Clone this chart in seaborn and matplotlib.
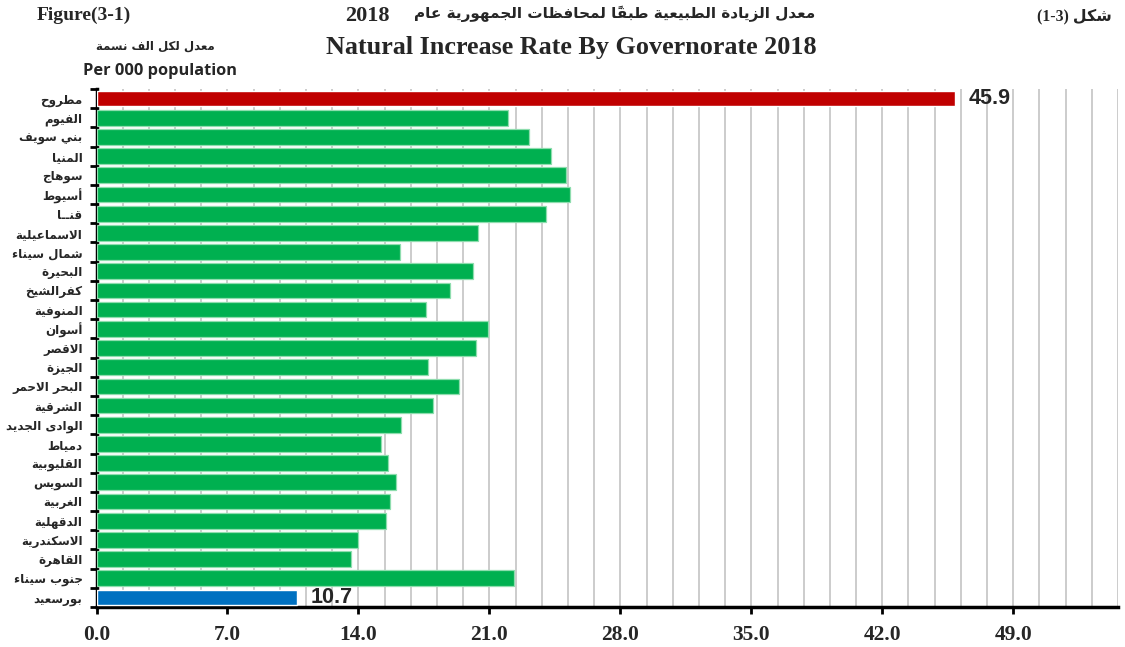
import numpy as np
import pandas as pd
import matplotlib
matplotlib.use("Agg")
import matplotlib.pyplot as plt
from matplotlib.colors import same_color
from matplotlib.ticker import MultipleLocator, FixedLocator, FormatStrFormatter
import seaborn as sns

# ---- data ----
governorates = ["مطروح", "الفيوم", "بني سويف", "المنيا", "سوهاج", "أسيوط", "قنــا",
                "الاسماعيلية", "شمال سيناء", "البحيرة", "كفرالشيخ", "المنوفية", "أسوان",
                "الاقصر", "الجيزة", "البحر الاحمر", "الشرقية", "الوادى الجديد", "دمياط",
                "القليوبية", "السويس", "الغربية", "الدقهلية", "الاسكندرية", "القاهرة",
                "جنوب سيناء", "بورسعيد"]
rates = [45.9, 22.0, 23.1, 24.3, 25.1, 25.3, 24.0, 20.4, 16.2, 20.1, 18.9, 17.6, 20.9,
         20.3, 17.7, 19.4, 18.0, 16.3, 15.2, 15.6, 16.0, 15.7, 15.5, 14.0, 13.6, 22.3, 10.7]

title_ar = "معدل الزيادة الطبيعية طبقاً لمحافظات الجمهورية عام"
title_year = "2018"
title_en = "Natural Increase Rate By Governorate 2018"
fig_label_en = "Figure(3-1)"
fig_label_ar = "شكل"
fig_label_num = "(1-3)"
unit_ar = "معدل لكل الف نسمة"
unit_en = "Per 000 population"

palette = {"max": "#C00000", "mid": "#00B050", "min": "#0070C0"}

# ---- minimal arabic shaping (matplotlib has no bidi / shaping) ----
AR_BASE = {"ء": 0xFE80, "آ": 0xFE81, "أ": 0xFE83, "ؤ": 0xFE85, "إ": 0xFE87, "ئ": 0xFE89,
           "ا": 0xFE8D, "ب": 0xFE8F, "ة": 0xFE93, "ت": 0xFE95, "ث": 0xFE99, "ج": 0xFE9D,
           "ح": 0xFEA1, "خ": 0xFEA5, "د": 0xFEA9, "ذ": 0xFEAB, "ر": 0xFEAD, "ز": 0xFEAF,
           "س": 0xFEB1, "ش": 0xFEB5, "ص": 0xFEB9, "ض": 0xFEBD, "ط": 0xFEC1, "ظ": 0xFEC5,
           "ع": 0xFEC9, "غ": 0xFECD, "ف": 0xFED1, "ق": 0xFED5, "ك": 0xFED9, "ل": 0xFEDD,
           "م": 0xFEE1, "ن": 0xFEE5, "ه": 0xFEE9, "و": 0xFEED, "ى": 0xFEEF, "ي": 0xFEF1}
RIGHT_ONLY = set("آأؤإادذرزوىة")
LAM_ALEF = {"ا": 0xFEFB, "أ": 0xFEF7, "إ": 0xFEF9, "آ": 0xFEF5}
MARKS = set("\u064B\u064C\u064D\u064E\u064F\u0650\u0651\u0652")
TATWEEL = "\u0640"


def joins_next(c):
    return c == TATWEEL or (c in AR_BASE and c not in RIGHT_ONLY and c != "ء")


def joins_prev(c):
    return c == TATWEEL or (c in AR_BASE and c != "ء")


def shape_ar(text):
    bases = [i for i, c in enumerate(text) if c not in MARKS]
    clusters = []
    k = 0
    while k < len(bases):
        i = bases[k]
        c = text[i]
        prev_c = text[bases[k - 1]] if k > 0 else ""
        next_c = text[bases[k + 1]] if k + 1 < len(bases) else ""
        marks = ""
        j = i + 1
        while j < len(text) and text[j] in MARKS:
            marks += text[j]
            j += 1
        p = joins_next(prev_c)
        if c == "ل" and next_c in LAM_ALEF:
            glyph = chr(LAM_ALEF[next_c] + (1 if p else 0))
            k += 1
            j = bases[k] + 1
            while j < len(text) and text[j] in MARKS:
                marks += text[j]
                j += 1
        elif c in AR_BASE and c != "ء":
            n = joins_prev(next_c) and c not in RIGHT_ONLY
            if p and n:
                off = 3
            elif n:
                off = 2
            elif p:
                off = 1
            else:
                off = 0
            glyph = chr(AR_BASE[c] + off)
        elif c == "ء":
            glyph = chr(AR_BASE[c])
        else:
            glyph = c
        clusters.append(glyph + marks)
        k += 1
    return "".join(reversed(clusters))


# ---- frame ----
df = pd.DataFrame({"gov": governorates, "rate": rates})
df["grp"] = ["max" if v == max(rates) else "min" if v == min(rates) else "mid" for v in rates]
df["label"] = [shape_ar(g) for g in governorates]

sns.set_theme(style="white")
plt.rcParams["font.family"] = ["DejaVu Sans"]
plt.rcParams["axes.linewidth"] = 2.5

fig = plt.figure(figsize=(11.25, 6.47), dpi=100)
ax = fig.add_axes([96.5 / 1125, 1 - 607 / 647, (1118 - 96.5) / 1125, (607 - 89) / 647])

sns.barplot(data=df, y="label", x="rate", hue="grp", palette=palette, dodge=False,
            width=0.82, legend=False, ax=ax, zorder=3, saturation=1)

for p in ax.patches:
    if same_color(p.get_facecolor(), palette["mid"]):
        p.set_edgecolor("#8EDDAE")
        p.set_linewidth(0.9)

n = len(governorates)
ax.set_xlim(0, 54.6)
ax.set_ylim(n - 0.5, -0.5)
ax.xaxis.set_major_locator(MultipleLocator(7))
ax.xaxis.set_minor_locator(MultipleLocator(1.4))
ax.xaxis.set_major_formatter(FormatStrFormatter("%.1f"))
ax.grid(axis="x", which="both", color="#C8C8C8", linewidth=1.3, zorder=0)
ax.set_axisbelow(True)

ax.yaxis.set_minor_locator(FixedLocator(np.arange(n + 1) - 0.5))
ax.tick_params(axis="y", which="major", length=0, pad=10, labelsize=8.6)
ax.tick_params(axis="y", which="minor", length=5, width=2, color="black", left=True)
ax.tick_params(axis="x", which="major", length=5, width=2, color="black", bottom=True, pad=8)
ax.tick_params(axis="x", which="minor", length=0)
for lab in ax.get_yticklabels():
    lab.set_fontweight("bold")
for lab in ax.get_xticklabels():
    lab.set_fontfamily("Liberation Serif")
    lab.set_fontweight("bold")
    lab.set_fontsize(15.5)

for side in ["top", "right"]:
    ax.spines[side].set_visible(False)
for side in ["left", "bottom"]:
    ax.spines[side].set_color("black")
    ax.spines[side].set_linewidth(2.5)
ax.set_xlabel("")
ax.set_ylabel("")

# value labels on the extreme bars
for i, v in enumerate(rates):
    if v in (max(rates), min(rates)):
        ax.annotate(f"{v:.1f}", xy=(v, i), xytext=(10, 0), textcoords="offset points",
                    va="center", ha="left", fontsize=15.5, fontweight="bold",
                    family="Liberation Sans", zorder=4)

# titles (arabic parts laid out right-to-left by hand)
fig.text(815 / 1125, 0.978, shape_ar(title_ar), ha="right", va="center",
         fontsize=11, fontweight="bold")
fig.text(390 / 1125, 0.976, title_year, ha="right", va="center",
         fontsize=16, fontweight="bold", family="Liberation Serif")
fig.text(0.508, 0.926, title_en, ha="center", va="center", fontsize=18.8,
         fontweight="bold", family="Liberation Serif")
fig.text(0.0747, 0.977, fig_label_en, ha="center", va="center", fontsize=14,
         fontweight="bold", family="Liberation Serif")
fig.text(0.9547, 0.974, fig_label_num + " " + shape_ar(fig_label_ar), ha="center",
         va="center", fontsize=11.3, fontweight="bold", family=["Liberation Serif", "DejaVu Sans"])
fig.text(0.138, 0.929, shape_ar(unit_ar), ha="center", va="center", fontsize=8.5,
         fontweight="bold")
fig.text(0.142, 0.890, unit_en, ha="center", va="center", fontsize=11.8,
         fontweight="bold", family="Open Sans")

fig.savefig("out.png", dpi=100)
